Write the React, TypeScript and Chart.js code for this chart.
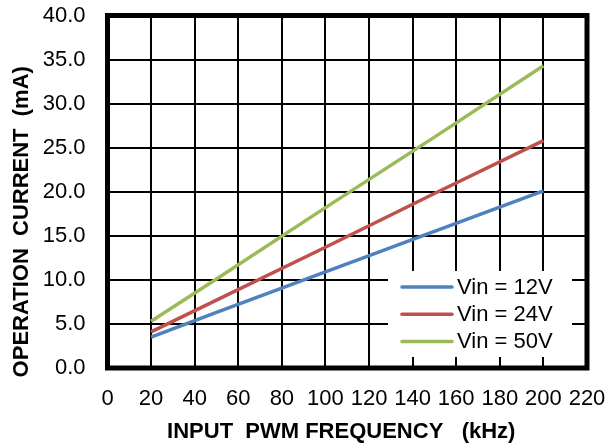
import React, { useEffect, useRef } from "react";
import { Chart, registerables } from "chart.js";

Chart.register(...registerables);

const frequencies = [20, 50, 100, 150, 200];
const vin12 = [3.5, 6.3, 10.9, 15.5, 20.1];
const vin24 = [4.1, 7.7, 13.7, 19.8, 25.8];
const vin50 = [5.3, 10.1, 18.2, 26.2, 34.3];
const seriesLabels = ["Vin = 12V", "Vin = 24V", "Vin = 50V"];
const seriesColors = ["#4F81BD", "#C0504D", "#9BBB59"];
const xTitle = "INPUT  PWM FREQUENCY   (kHz)";
const yTitle = "OPERATION  CURRENT  (mA)";

const FONT = "'Liberation Sans', Arial, sans-serif";

const decorPlugin = {
  id: "decor",
  afterDraw(chart: any) {
    const { ctx, chartArea: a } = chart;
    ctx.save();
    // legend box
    const bw = 184;
    const bh = 86;
    const bx = a.right - 15 - bw;
    const by = a.bottom - 11 - bh;
    ctx.fillStyle = "#ffffff";
    ctx.fillRect(bx, by, bw, bh);
    chart.data.datasets.forEach((ds: any, i: number) => {
      const cy = by + 16 + i * 27.2;
      ctx.strokeStyle = ds.borderColor;
      ctx.lineWidth = 3.5;
      ctx.lineCap = "round";
      ctx.beginPath();
      ctx.moveTo(bx + 14, cy);
      ctx.lineTo(bx + 64, cy);
      ctx.stroke();
      ctx.fillStyle = "#000";
      ctx.font = `22px ${FONT}`;
      ctx.textAlign = "left";
      ctx.textBaseline = "middle";
      ctx.fillText(ds.label, bx + 69, cy + 1);
    });
    // frame
    ctx.strokeStyle = "#000";
    ctx.lineWidth = 5;
    ctx.lineCap = "butt";
    ctx.strokeRect(a.left, a.top, a.right - a.left, a.bottom - a.top);
    // axis titles
    ctx.fillStyle = "#000";
    ctx.font = `bold 22px ${FONT}`;
    ctx.textAlign = "center";
    ctx.textBaseline = "alphabetic";
    ctx.fillText(xTitle, (a.left + a.right) / 2 - 6, a.bottom + 70);
    ctx.translate(28, (a.top + a.bottom) / 2 + 30);
    ctx.rotate(-Math.PI / 2);
    ctx.font = `bold 22px ${FONT}`;
    ctx.fillText(yTitle, 0, 0);
    ctx.restore();
  },
};

export default function App() {
  const ref = useRef<HTMLCanvasElement | null>(null);
  useEffect(() => {
    if (!ref.current) return;
    const mk = (vals: number[]) => frequencies.map((f, i) => ({ x: f, y: vals[i] }));
    const chart = new Chart(ref.current, {
      type: "line",
      data: {
        datasets: [vin12, vin24, vin50].map((vals, i) => ({
          label: seriesLabels[i],
          data: mk(vals),
          borderColor: seriesColors[i],
          backgroundColor: seriesColors[i],
          borderWidth: 3.5,
          pointRadius: 0,
          tension: 0,
          fill: false,
        })),
      },
      options: {
        animation: false,
        responsive: false,
        devicePixelRatio: 1,
        layout: { padding: { top: 15.5, right: 22, left: 0, bottom: 0 } },
        plugins: { legend: { display: false }, tooltip: { enabled: false } },
        scales: {
          x: {
            type: "linear",
            min: 0,
            max: 220,
            afterFit: (s: any) => {
              s.height = 80;
              s.paddingLeft = 0;
              s.paddingRight = 0;
            },
            ticks: {
              stepSize: 20,
              autoSkip: false,
              maxRotation: 0,
              padding: 18,
              color: "#000",
              font: { family: FONT, size: 22 },
            },
            grid: { color: "#000", lineWidth: 2, drawTicks: false },
            border: { display: false },
          },
          y: {
            min: 0,
            max: 40,
            afterFit: (s: any) => {
              s.width = 107.5;
              s.paddingTop = 0;
              s.paddingBottom = 0;
            },
            ticks: {
              stepSize: 5,
              padding: 22,
              color: "#000",
              font: { family: FONT, size: 22 },
              callback: (v: any) => Number(v).toFixed(1),
            },
            grid: { color: "#000", lineWidth: 2, drawTicks: false },
            border: { display: false },
          },
        },
      },
      plugins: [decorPlugin],
    });
    return () => chart.destroy();
  }, []);
  return (
    <div style={{ position: "absolute", left: 0, top: 0, width: 609, height: 448, background: "#fff" }}>
      <canvas ref={ref} width={609} height={448} style={{ width: 609, height: 448 }} />
    </div>
  );
}
